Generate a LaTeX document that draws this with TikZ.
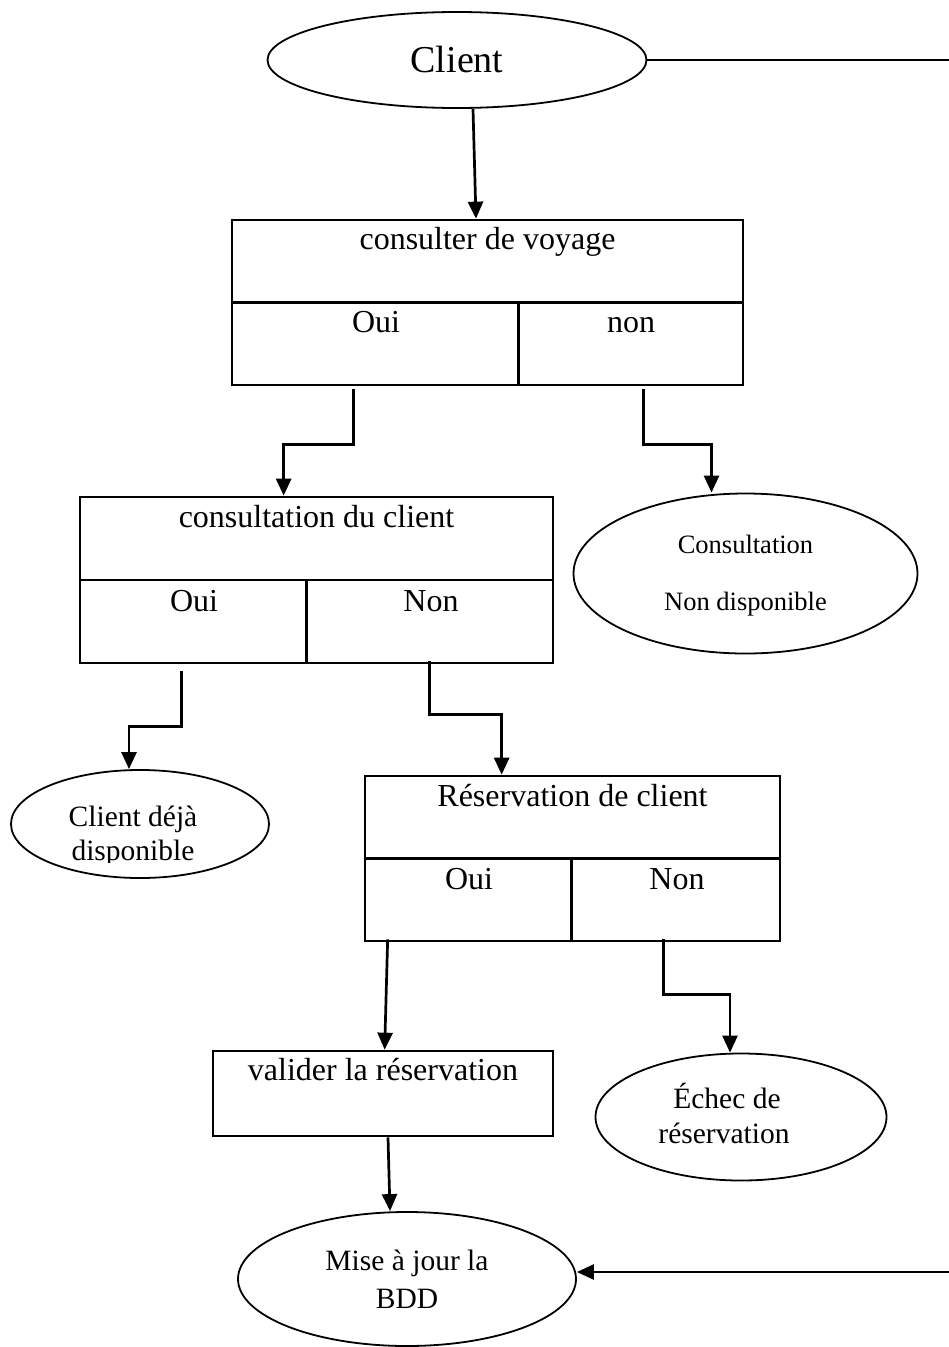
\documentclass[tikz,border=0pt]{standalone}
\usepackage{fontspec}
\setmainfont{Liberation Serif}
\usetikzlibrary{shapes.geometric,arrows.meta,calc}
\tikzset{
  box/.style={draw,line width=2.7pt,rectangle,inner sep=0pt},
  ell/.style={draw,line width=1.8pt,ellipse,inner sep=0pt},
  conn/.style={line width=2.7pt},
  arr/.style={line width=2.7pt,-{Triangle[width=15pt,length=17pt]}},
  btxt/.style={anchor=base,inner sep=0pt,font=\fontsize{32}{38}\selectfont},
  etxt/.style={anchor=base,inner sep=0pt,font=\fontsize{29.5}{35}\selectfont},
}
\begin{document}
\begin{tikzpicture}[x=1pt,y=-1pt]
\useasboundingbox (0,0) rectangle (949,1347);

% Client ellipse
\node[ell,minimum width=379pt,minimum height=96pt] (client) at (457,60) {};
\node[anchor=base,inner sep=0pt,font=\fontsize{38}{45}\selectfont] (tclient) at (457,72) {Client};
\coordinate (r1) at (949,60);
\draw[line width=2.2pt] (client.east) -- (r1);

% Box 1
\node[box,minimum width=511pt,minimum height=165pt] (b1) at (487.5,302.5) {};
\draw[conn] (b1.west) -- (b1.east);
\draw[conn] ([xshift=288pt]b1.south west) -- ([xshift=288pt]b1.west);
\node[btxt] (t1) at (487.5,249) {consulter de voyage};
\node[btxt] (t1o) at (376,332) {Oui};
\node[btxt] (t1n) at (631,332) {non};
\draw[arr] ([xshift=16pt]client.south) -- ([xshift=-11.5pt]b1.north);

% Box 2
\node[box,minimum width=473pt,minimum height=166pt] (b2) at (316.5,580) {};
\draw[conn] (b2.west) -- (b2.east);
\draw[conn] ([xshift=228pt]b2.south west) -- ([xshift=228pt]b2.west);
\node[btxt] (t2) at (316.5,527) {consultation du client};
\node[btxt] (t2o) at (194,611) {Oui};
\node[btxt] (t2n) at (431,611) {Non};
\draw[arr] ([xshift=123pt,yshift=-3pt]b1.south west) -- ++(0,55) -| ([xshift=205pt]b2.north west);

% Consultation non disponible
\node[ell,minimum width=344pt,minimum height=160pt] (cnd) at (745.5,573.5) {};
\node[etxt,font=\fontsize{26.5}{32}\selectfont] (tc1) at (745.5,553) {Consultation};
\node[etxt,font=\fontsize{26.5}{32}\selectfont] (tc2) at (745.5,610) {Non disponible};
\draw[arr] ([xshift=413pt,yshift=-3pt]b1.south west) -- ++(0,55) -| ([xshift=-34pt]cnd.north);

% Client deja disponible
\node[ell,minimum width=258pt,minimum height=108pt] (cdd) at (140,824) {};
\node[etxt] (td1) at (133,826) {Client déjà};
\begin{scope}
\clip (0,700) rectangle (300,862);
\node[etxt] (td2) at (133,860) {disponible};
\end{scope}
\draw[arr] ([xshift=103pt,yshift=-7pt]b2.south west) -- ++(0,55) -| ([xshift=-11pt]cdd.north);

% Box 3
\node[box,minimum width=415pt,minimum height=165pt] (b3) at (572.5,858.5) {};
\draw[conn] (b3.west) -- (b3.east);
\draw[conn] ([xshift=208pt]b3.south west) -- ([xshift=208pt]b3.west);
\node[btxt] (t3) at (572.5,806) {Réservation de client};
\node[btxt] (t3o) at (469,889) {Oui};
\node[btxt] (t3n) at (677,889) {Non};
\draw[arr] ([xshift=351pt,yshift=3pt]b2.south west) -- ++(0,53) -| ([xshift=138pt]b3.north west);

% Box 4
\node[box,minimum width=340pt,minimum height=85pt] (b4) at (383,1093.5) {};
\node[btxt] (t4) at (383,1080) {valider la réservation};
\draw[arr] ([xshift=24pt,yshift=3pt]b3.south west) -- ([xshift=173pt]b4.north west);

% Echec de reservation
\node[ell,minimum width=291pt,minimum height=127pt] (ech) at (741,1117) {};
\node[etxt] (te1) at (727,1108) {Échec de};
\node[etxt] (te2) at (724,1143) {réservation};
\draw[arr] ([xshift=300pt,yshift=3pt]b3.south west) -- ++(0,55) -| ([xshift=-11pt]ech.north);

% Mise a jour la BDD
\node[ell,minimum width=338pt,minimum height=134pt] (bdd) at (407,1279) {};
\node[etxt] (tb1) at (407,1270) {Mise à jour la};
\node[etxt] (tb2) at (407,1308) {BDD};
\draw[arr] ([xshift=5pt]b4.south) -- ([xshift=-17pt]bdd.north);
\coordinate (r2) at (949,1272);
\draw[arr] (r2) -- (r2 -| bdd.east);
\end{tikzpicture}
\end{document}
